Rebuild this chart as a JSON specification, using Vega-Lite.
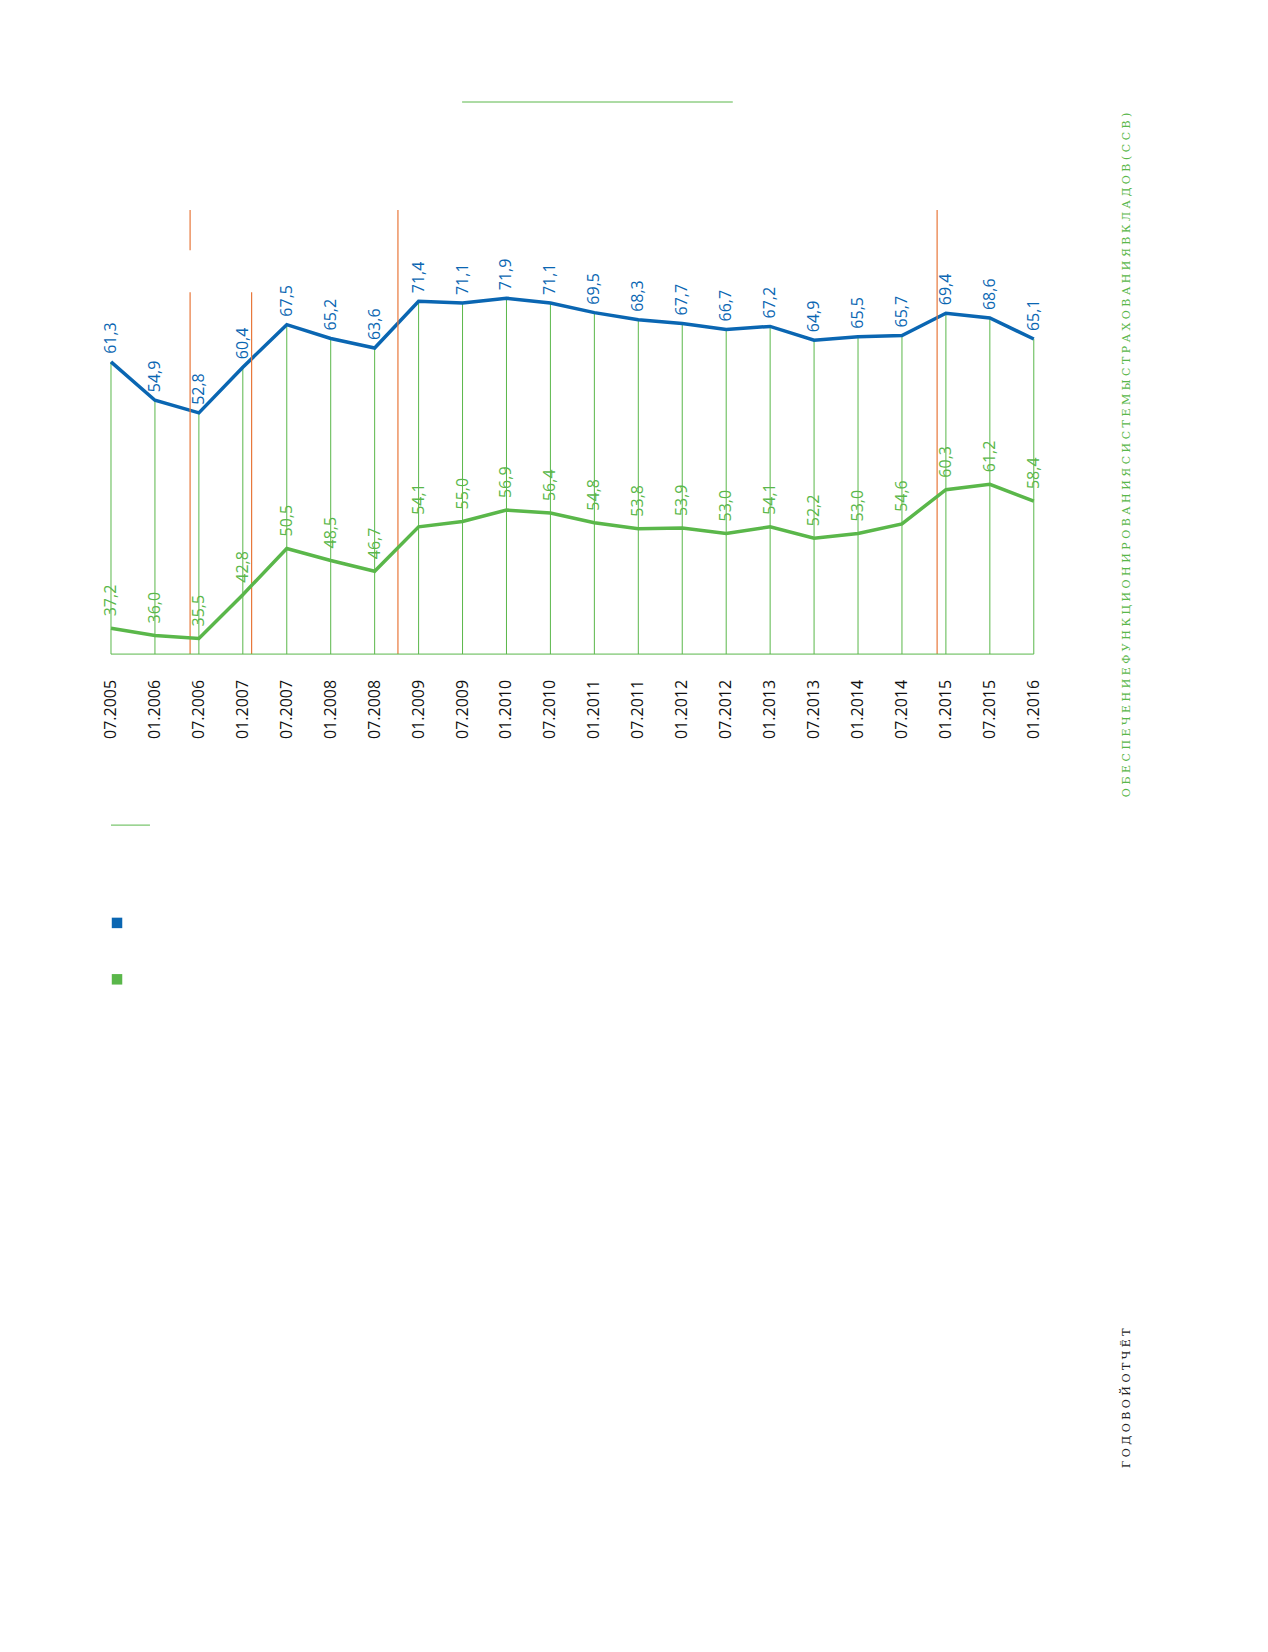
{
  "$schema": "https://vega.github.io/schema/vega-lite/v6.json",
  "width": 1268,
  "height": 1652,
  "autosize": {"type": "fit", "contains": "padding"},
  "padding": 0,
  "config": {
    "font": "Open Sans",
    "view": {"stroke": null},
    "locale": {"number": {"decimal": ",", "thousands": " ", "grouping": [3], "currency": ["", ""]}}
  },
  "datasets": {
    "series": [
      {"i": 0, "label": "07.2005", "blue": 61.3, "green": 37.2},
      {"i": 1, "label": "01.2006", "blue": 54.9, "green": 36.0},
      {"i": 2, "label": "07.2006", "blue": 52.8, "green": 35.5},
      {"i": 3, "label": "01.2007", "blue": 60.4, "green": 42.8},
      {"i": 4, "label": "07.2007", "blue": 67.5, "green": 50.5},
      {"i": 5, "label": "01.2008", "blue": 65.2, "green": 48.5},
      {"i": 6, "label": "07.2008", "blue": 63.6, "green": 46.7},
      {"i": 7, "label": "01.2009", "blue": 71.4, "green": 54.1},
      {"i": 8, "label": "07.2009", "blue": 71.1, "green": 55.0},
      {"i": 9, "label": "01.2010", "blue": 71.9, "green": 56.9},
      {"i": 10, "label": "07.2010", "blue": 71.1, "green": 56.4},
      {"i": 11, "label": "01.2011", "blue": 69.5, "green": 54.8},
      {"i": 12, "label": "07.2011", "blue": 68.3, "green": 53.8},
      {"i": 13, "label": "01.2012", "blue": 67.7, "green": 53.9},
      {"i": 14, "label": "07.2012", "blue": 66.7, "green": 53.0},
      {"i": 15, "label": "01.2013", "blue": 67.2, "green": 54.1},
      {"i": 16, "label": "07.2013", "blue": 64.9, "green": 52.2},
      {"i": 17, "label": "01.2014", "blue": 65.5, "green": 53.0},
      {"i": 18, "label": "07.2014", "blue": 65.7, "green": 54.6},
      {"i": 19, "label": "01.2015", "blue": 69.4, "green": 60.3},
      {"i": 20, "label": "07.2015", "blue": 68.6, "green": 61.2},
      {"i": 21, "label": "01.2016", "blue": 65.1, "green": 58.4}
    ],
    "orange": [
      {"x": 1.8, "y": 106.9, "y2": 100.2},
      {"x": 1.8, "y": 93.2, "y2": 32.9},
      {"x": 3.2, "y": 93.2, "y2": 32.9},
      {"x": 6.53, "y": 106.9, "y2": 32.9},
      {"x": 18.8, "y": 106.9, "y2": 32.9}
    ],
    "deco": [
      {"x": 0, "x2": 21, "y": 32.9},
      {"x": 0, "x2": 0.887, "y": 4.4},
      {"x": 7.99, "x2": 14.15, "y": 124.9}
    ],
    "legend": [
      {"x": 0.137, "y": -11.9, "series": "blue"},
      {"x": 0.137, "y": -21.3, "series": "green"}
    ],
    "side": [
      {"x": 23.12, "y": 66.1, "text": "О Б Е С П Е Ч Е Н И Е   Ф У Н К Ц И О Н И Р О В А Н И Я   С И С Т Е М Ы   С Т Р А Х О В А Н И Я   В К Л А Д О В   ( С С В )", "c": "#5ab74a"},
      {"x": 23.12, "y": -91.1, "text": "Г О Д О В О Й   О Т Ч Ё Т", "c": "#222222"}
    ]
  },
  "resolve": {"scale": {"y": "independent"}},
  "layer": [
    {
      "data": {"name": "series"},
      "encoding": {
        "x": {"field": "i", "type": "quantitative", "scale": {"domain": [-2.526, 26.33], "nice": false, "zero": false}, "axis": null},
        "y": {"field": "blue", "type": "quantitative", "scale": {"domain": [-153.7, 121.6], "nice": false, "zero": false}, "axis": null}
      },
      "layer": [
        {"mark": {"type": "rule", "color": "#5ab74a", "strokeWidth": 1}, "encoding": {"y2": {"datum": 12.6}}},
        {"mark": {"type": "line", "color": "#0a66b2", "strokeWidth": 3.5}},
        {"mark": {"type": "text", "angle": 270, "align": "left", "baseline": "middle", "dx": 8, "fontSize": 16, "color": "#0a66b2"},
         "encoding": {"text": {"field": "blue", "type": "quantitative", "format": ".1f"}}}
      ]
    },
    {
      "layer": [
        {
          "data": {"name": "orange"},
          "mark": {"type": "rule", "color": "#e8773a", "strokeWidth": 1.2},
          "encoding": {
            "x": {"field": "x", "type": "quantitative", "scale": {"domain": [-2.526, 26.33], "nice": false, "zero": false}, "axis": null},
            "y": {"field": "y", "type": "quantitative", "scale": {"domain": [-133.4, 141.9], "nice": false, "zero": false}, "axis": null},
            "y2": {"field": "y2"}
          }
        },
        {
          "data": {"name": "deco"},
          "mark": {"type": "rule", "color": "#5ab74a", "strokeWidth": 1},
          "encoding": {
            "x": {"field": "x", "type": "quantitative"},
            "x2": {"field": "x2"},
            "y": {"field": "y", "type": "quantitative"}
          }
        },
        {
          "data": {"name": "series"},
          "encoding": {
            "x": {"field": "i", "type": "quantitative"},
            "y": {"field": "green", "type": "quantitative"}
          },
          "layer": [
            {"mark": {"type": "line", "color": "#5ab74a", "strokeWidth": 3.5}},
            {"mark": {"type": "text", "angle": 270, "align": "left", "baseline": "middle", "dx": 12, "fontSize": 16, "color": "#5ab74a"},
             "encoding": {"text": {"field": "green", "type": "quantitative", "format": ".1f"}}},
            {"mark": {"type": "text", "angle": 270, "align": "right", "baseline": "middle", "fontSize": 16, "color": "#111111"},
             "encoding": {"y": {"datum": 28.6}, "text": {"field": "label"}}}
          ]
        },
        {
          "data": {"name": "legend"},
          "mark": {"type": "square", "filled": true, "size": 110, "opacity": 1},
          "encoding": {
            "x": {"field": "x", "type": "quantitative"},
            "y": {"field": "y", "type": "quantitative"},
            "color": {"field": "series", "type": "nominal", "scale": {"domain": ["blue", "green"], "range": ["#0a66b2", "#5ab74a"]}, "legend": null}
          }
        },
        {
          "data": {"name": "side"},
          "mark": {"type": "text", "angle": 270, "align": "center", "baseline": "middle", "fontSize": 11, "font": "DejaVu Serif"},
          "encoding": {
            "x": {"field": "x", "type": "quantitative"},
            "y": {"field": "y", "type": "quantitative"},
            "text": {"field": "text"},
            "color": {"field": "c", "type": "nominal", "scale": null}
          }
        }
      ]
    }
  ]
}
